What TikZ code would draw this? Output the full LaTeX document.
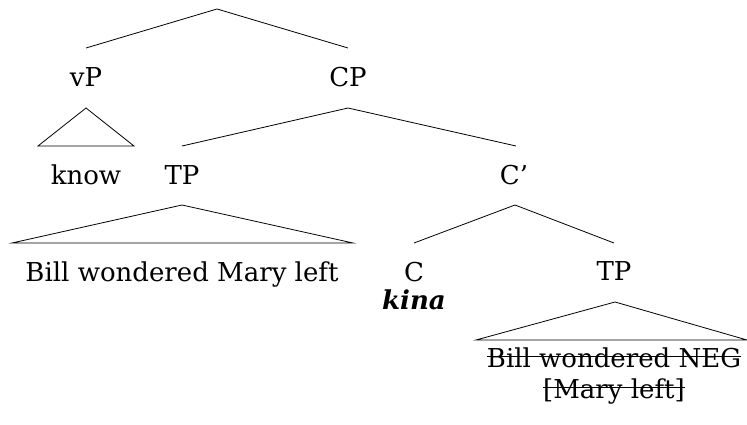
\documentclass[tikz,border=0pt]{standalone}
\usepackage{fontspec}
\setmainfont{DejaVu Serif}
\begin{document}
\begin{tikzpicture}[x=1pt,y=-1pt,
  lbl/.style={anchor=base,inner sep=0pt,font=\fontsize{26}{31}\selectfont},
  branch/.style={line width=0.8pt,line join=miter},
  strike/.style={line width=0.9pt}]
\useasboundingbox (0,0) rectangle (747,425);

% category labels and terminal strings
\node[lbl] (vP)     at (86,87)   {vP};
\node[lbl] (CP)     at (348,87)  {CP};
\node[lbl] (know)   at (86,185)  {know};
\node[lbl] (TPa)    at (182,185) {TP};
\node[lbl] (Cbar)   at (514,185) {C’};
\node[lbl] (TPtext) at (182,281) {Bill wondered Mary left};
\node[lbl] (C)      at (414,281) {C};
\node[lbl] (kina)   at (414,309) {\textbf{\textit{kina}}};
\node[lbl] (TPb)    at (614,280) {TP};
\node[lbl] (del1)   at (614,367) {Bill wondered NEG};
\node[lbl] (del2)   at (614,398) {[Mary left]};

% strike-through of the deleted material
\draw[strike] ([yshift=11pt]del1.base west) -- ([yshift=11pt]del1.base east);
\draw[strike] ([yshift=11pt]del2.base west) -- ([yshift=11pt]del2.base east);

% branch end points
\coordinate (root)    at (217,9);
\coordinate (vP-top)  at (86,48);
\coordinate (CP-top)  at (348,48);
\coordinate (vP-bot)  at (86,108);
\coordinate (know-l)  at (38,146);
\coordinate (know-r)  at (134,146);
\coordinate (CP-bot)  at (348,108);
\coordinate (TPa-top) at (182,146);
\coordinate (Cbar-top) at (516,146);
\coordinate (TPa-bot) at (182,205);
\coordinate (TPa-l)   at (12,243);
\coordinate (TPa-r)   at (353,243);
\coordinate (Cbar-bot) at (515,205);
\coordinate (C-top)   at (414,243);
\coordinate (TPb-top) at (614,243);
\coordinate (TPb-bot) at (615,302);
\coordinate (TPb-l)   at (476,340);
\coordinate (TPb-r)   at (747,340);

% branches
\draw[branch] (vP-top) -- (root) -- (CP-top);
\draw[branch] (vP-bot) -- (know-l) -- (know-r) -- cycle;
\draw[branch] (TPa-top) -- (CP-bot) -- (Cbar-top);
\draw[branch] (TPa-bot) -- (TPa-l) -- (TPa-r) -- cycle;
\draw[branch] (C-top) -- (Cbar-bot) -- (TPb-top);
\draw[branch] (TPb-bot) -- (TPb-l) -- (TPb-r) -- cycle;
\end{tikzpicture}
\end{document}
